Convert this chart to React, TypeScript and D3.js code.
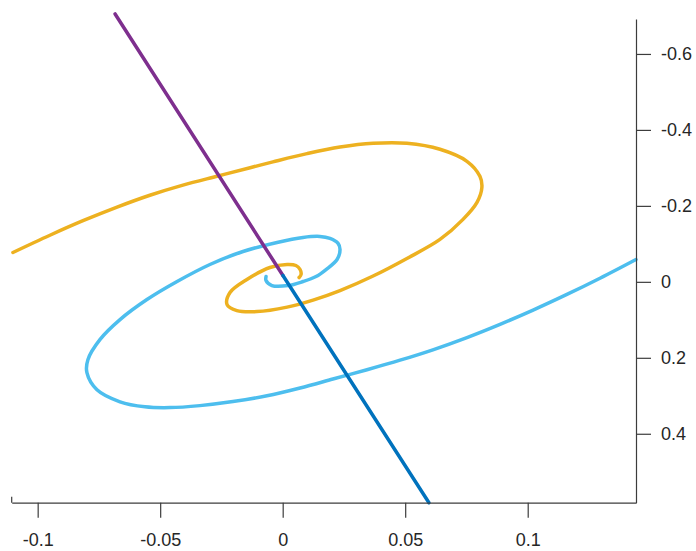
import { useEffect, useRef } from "react";
import * as d3 from "d3";

// axis ticks
const xTicks = [-0.1, -0.05, 0, 0.05, 0.1];
const xTickLabels = ["-0.1", "-0.05", "0", "0.05", "0.1"];
const yTicks = [-0.6, -0.4, -0.2, 0, 0.2, 0.4];
const yTickLabels = ["-0.6", "-0.4", "-0.2", "0", "0.2", "0.4"];

// yellow spiral, outer end -> centre
const yellowX = [
  -0.1101, -0.095, -0.0815, -0.0676, -0.0542, -0.0407, -0.0264, -0.0133, -0.004, 0.0099,
  0.0234, 0.0369, 0.0507, 0.0642, 0.0752, 0.0805, 0.0813, 0.0793, 0.0736, 0.0642,
  0.0507, 0.0369, 0.0234, 0.0124, 0.0018, -0.0105, -0.0187, -0.0227, -0.0215, -0.0146,
  -0.0052, 0.0018, 0.0054, 0.0071, 0.0075, 0.0067,
];
const yellowY = [
  -0.0773, -0.1227, -0.1609, -0.1968, -0.228, -0.2546, -0.2786, -0.3005, -0.3158, -0.3375,
  -0.3549, -0.3649, -0.3649, -0.3491, -0.3174, -0.2778, -0.2488, -0.2092, -0.1644, -0.1116,
  -0.0615, -0.0153, 0.023, 0.048, 0.0665, 0.0784, 0.0757, 0.0599, 0.0282, -0.0061,
  -0.0377, -0.0456, -0.043, -0.0325, -0.0193, -0.0113,
];

// light blue spiral, outer end -> centre
const blueX = [
  0.1442, 0.1295, 0.116, 0.1022, 0.0887, 0.0752, 0.0613, 0.0479, 0.0344, 0.0205,
  0.0071, -0.0064, -0.0203, -0.0338, -0.046, -0.0562, -0.0664, -0.0758, -0.0799, -0.0795,
  -0.0746, -0.0664, -0.0554, -0.0431, -0.0297, -0.0162, -0.0023, 0.0083, 0.0152, 0.0193,
  0.0226, 0.0234, 0.0222, 0.0177, 0.0136, 0.0083, 0.0022, -0.0044, -0.0068, -0.0068,
];
const blueY = [
  -0.0588, -0.0095, 0.0332, 0.0744, 0.1119, 0.1467, 0.1789, 0.2063, 0.2314, 0.2559,
  0.2794, 0.3, 0.3153, 0.3259, 0.3311, 0.329, 0.3158, 0.2842, 0.2393, 0.205,
  0.1522, 0.0995, 0.0467, -0.0008, -0.0456, -0.0799, -0.1037, -0.1169, -0.1195, -0.1142,
  -0.1011, -0.0852, -0.0588, -0.0324, -0.014, -0.0008, 0.0098, 0.0098, -0.0034, -0.014,
];

// straight manifold: upper half (purple) and lower half (dark blue)
const upperX = [-0.0684, 0.0001];
const upperY = [-0.7053, -0.0166];
const lowerX = [0.0001, 0.0597];
const lowerY = [-0.0166, 0.5815];

const zip = (xs: number[], ys: number[]) => xs.map((x, i) => [x, ys[i]] as [number, number]);

export default function App() {
  const ref = useRef<SVGSVGElement>(null);

  useEffect(() => {
    const svg = d3.select(ref.current);
    svg.selectAll("*").remove();

    const font = "'Liberation Sans', Arial, Helvetica, sans-serif";
    const axisColor = "#3c3c3c";

    const x = d3.scaleLinear().domain([-0.1106, 0.1442]).range([11.7, 636]);
    const y = d3.scaleLinear().domain([-0.692, 0.5815]).range([19, 502.7]);

    const line = d3
      .line<[number, number]>()
      .x((d) => x(d[0]))
      .y((d) => y(d[1]))
      .curve(d3.curveCatmullRom.alpha(0.5));

    const series = [
      { pts: zip(yellowX, yellowY), color: "#EDB120" },
      { pts: zip(blueX, blueY), color: "#4DBEEE" },
      { pts: zip(upperX, upperY), color: "#7E2F8E" },
      { pts: zip(lowerX, lowerY), color: "#0072BD" },
    ];

    svg
      .append("g")
      .selectAll("path")
      .data(series)
      .join("path")
      .attr("fill", "none")
      .attr("stroke", (d) => d.color)
      .attr("stroke-width", 3.5)
      .attr("stroke-linecap", "round")
      .attr("stroke-linejoin", "round")
      .attr("d", (d) => line(d.pts));

    // bottom axis
    const gx = svg
      .append("g")
      .attr("transform", `translate(0,${y.range()[1]})`)
      .call(
        d3
          .axisBottom(x)
          .tickValues(xTicks)
          .tickFormat((_, i) => xTickLabels[i])
          .tickSize(15)
          .tickSizeOuter(0)
          .tickPadding(16)
      );

    // right axis
    const gy = svg
      .append("g")
      .attr("transform", `translate(${x.range()[1]},0)`)
      .call(
        d3
          .axisRight(y)
          .tickValues(yTicks)
          .tickFormat((_, i) => yTickLabels[i])
          .tickSize(15)
          .tickSizeOuter(0)
          .tickPadding(10)
      );

    [gx, gy].forEach((g) => {
      g.select(".domain").attr("stroke", axisColor).attr("stroke-width", 1.2);
      g.selectAll(".tick line").attr("stroke", axisColor).attr("stroke-width", 1.2);
      g.selectAll(".tick text")
        .attr("fill", "#262626")
        .style("font-family", font)
        .style("font-size", "18px");
    });

    // little upturn at the left end of the x axis
    svg
      .append("line")
      .attr("x1", x.range()[0])
      .attr("x2", x.range()[0])
      .attr("y1", y.range()[1] - 6)
      .attr("y2", y.range()[1])
      .attr("stroke", axisColor)
      .attr("stroke-width", 1.2);
  }, []);

  return (
    <svg
      ref={ref}
      width={696}
      height={551}
      style={{ position: "absolute", left: 0, top: 0, background: "#fff" }}
    ></svg>
  );
}
